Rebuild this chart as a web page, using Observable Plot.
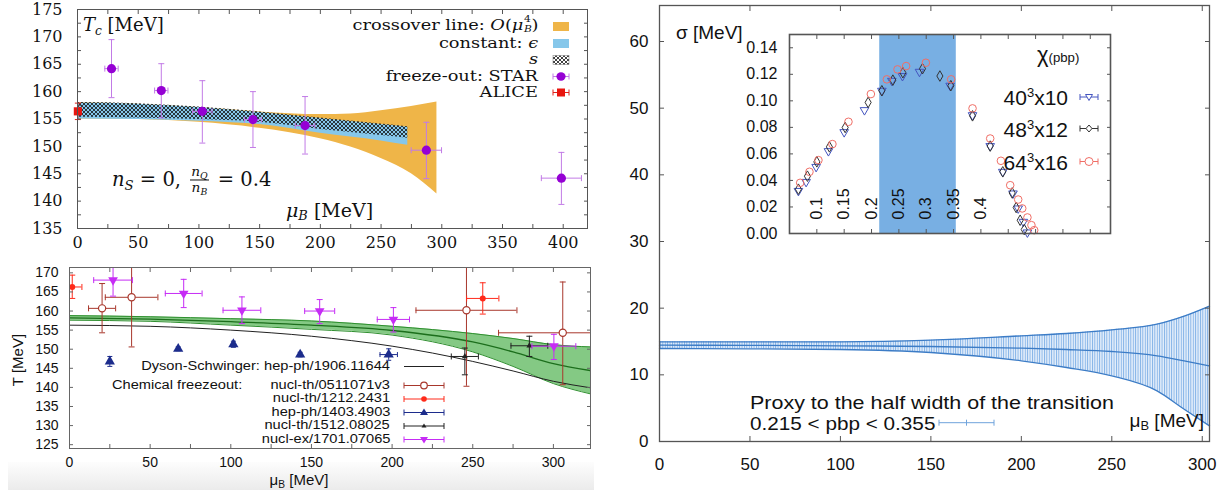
<!DOCTYPE html>
<html>
<head>
<meta charset="utf-8">
<script src="https://cdn.jsdelivr.net/npm/d3@7"></script>
<script src="https://cdn.jsdelivr.net/npm/@observablehq/plot@0.6"></script>
<style>
html,body{margin:0;padding:0;background:#fff;}
#root{position:relative;width:1229px;height:495px;overflow:hidden;background:#fff;}
#root > svg{position:absolute;}
.t{position:absolute;white-space:nowrap;line-height:1;color:#111;}
.serif{font-family:"DejaVu Serif","Liberation Serif",serif;}
.sans{font-family:"Liberation Sans",Arial,sans-serif;}
.t sub{font-size:0.68em;vertical-align:-0.3em;line-height:0;}
.t sup{font-size:0.62em;vertical-align:0.55em;line-height:0;}
.ss{position:relative;display:inline-block;width:0.75em;height:0;font-size:0.6em;}
.ss > span{position:absolute;left:0.05em;line-height:1;}
.ss > .a{top:-1.8em;}
.ss > .b{top:-0.55em;}
.frac{display:inline-block;vertical-align:-0.5em;text-align:center;font-size:0.7em;line-height:1.1;margin:0 3px;}
.frac > span{display:block;padding:0 1px;}
.frac .den{border-top:1px solid #111;}
.stripe{position:absolute;left:8px;top:462px;width:586px;height:28px;background:linear-gradient(#fdfdfd,#ebebeb);}
</style>
</head>
<body>
<svg width="0" height="0" style="position:absolute">
  <defs>
    <pattern id="hatch" patternUnits="userSpaceOnUse" width="4" height="4">
      <path d="M0,0 L4,4 M4,0 L0,4" stroke="#111" stroke-width="0.8"/>
    </pattern>
    <pattern id="vlines" patternUnits="userSpaceOnUse" width="2.4" height="10">
      <rect x="0" y="0" width="0.9" height="10" fill="#7fb0e6"/>
    </pattern>
  </defs>
</svg>
<div id="root"><div class="stripe"></div></div>
<script>
// ================= DATA =================
// --- Top-left: crossover line T_c(mu_B) ---
const tlXLabels = [0, 50, 100, 150, 200, 250, 300, 350, 400];
const tlYLabels = [135, 140, 145, 150, 155, 160, 165, 170, 175];
const tlOrangeMu = [0, 50, 100, 150, 200, 225, 250, 275, 296];
const tlOrangeLo = [155.0, 154.9, 154.4, 153.3, 151.4, 149.9, 147.8, 145.0, 141.3];
const tlOrangeHi = [158.0, 157.7, 157.1, 156.3, 155.8, 155.9, 156.5, 157.3, 158.1];
const tlBandMu = [0, 50, 100, 150, 200, 250, 272];
const tlEpsLo = [155.0, 154.9, 154.6, 154.0, 152.4, 151.0, 150.2];
const tlEpsHi = [157.9, 157.7, 157.1, 156.2, 155.1, 154.0, 153.5];
const tlSLo = [155.3, 155.2, 154.9, 154.4, 153.1, 152.0, 151.5];
const tlSHi = [158.0, 157.8, 157.2, 156.3, 155.2, 154.1, 153.6];
const starMu = [28, 69, 102.8, 144.5, 187.4, 287.3, 398.5];
const starT = [164.2, 160.2, 156.4, 154.9, 153.8, 149.3, 144.2];
const starTLo = [158.9, 155.2, 150.6, 149.8, 148.6, 144.1, 139.4];
const starTHi = [169.5, 165.1, 162.0, 160.0, 159.1, 154.4, 148.9];
const starMuErr = [5.5, 5.5, 8, 7, 8, 12.5, 16.5];
const aliceMu = [0.3];
const aliceT = [156.4];
const aliceTLo = [154.9];
const aliceTHi = [157.9];
const aliceMuErr = [1];

// --- Bottom-left: comparison with other results ---
const blXLabels = [0, 50, 100, 150, 200, 250, 300];
const blYLabels = [125, 130, 135, 140, 145, 150, 155, 160, 165, 170];
const greenMu = [0, 50, 100, 150, 200, 250, 275, 300, 323];
const greenHi = [158.8, 158.5, 158.0, 157.4, 156.0, 154.1, 152.8, 151.2, 150.6];
const greenMid = [158.2, 157.9, 157.2, 156.3, 154.9, 151.9, 149.3, 146.2, 144.4];
const greenLo = [157.6, 157.3, 156.3, 155.2, 153.7, 149.3, 145.5, 141.0, 138.3];
const dseMu = [0, 50, 100, 150, 200, 225, 250, 275, 300, 323];
const dseT = [156.3, 156.0, 155.0, 153.4, 150.8, 149.0, 146.8, 144.3, 141.6, 139.9];
const brownMu = [20.2, 38.5, 246.1, 305.8];
const brownT = [160.7, 163.6, 160.2, 154.3];
const brownTLo = [154.3, 150.6, 140.3, 140.7];
const brownTHi = [167.2, 176.0, 176.0, 167.6];
const brownMuErr = [8.4, 16.3, 31.3, 39.8];
const redMu = [1.7, 256.2];
const redT = [166.3, 163.3];
const redTLo = [163.3, 159.2];
const redTHi = [169.4, 167.4];
const redMuErr = [6, 10];
const navyMu = [25.0, 67.4, 101.6, 143.0, 197.9];
const navyT = [146.8, 150.1, 151.3, 148.6, 148.6];
const navyTLo = [145.5, 149.6, 150.5, 148.0, 147.1];
const navyTHi = [148.1, 150.6, 152.1, 149.2, 150.1];
const navyMuErr = [0, 0, 0, 0, 5.4];
const blackMu = [245.1, 285.1];
const blackT = [148.1, 150.9];
const blackTLo = [143.3, 148.1];
const blackTHi = [150.3, 153.4];
const blackMuErr = [8.4, 11.4];
const magMu = [27.0, 70.8, 106.9, 155.1, 200.8, 300.3];
const magT = [168.1, 164.6, 160.2, 160.0, 157.8, 150.8];
const magTLo = [163.9, 160.9, 156.7, 156.7, 154.5, 147.3];
const magTHi = [171.7, 168.3, 163.7, 163.0, 160.9, 153.9];
const magMuErr = [12, 11.4, 11.7, 9.3, 10, 13.6];

// --- Right: sigma(mu_B) ---
const rXLabels = [0, 50, 100, 150, 200, 250, 300];
const rYLabels = [0, 10, 20, 30, 40, 50, 60];
const sigMu = [0, 50, 100, 150, 200, 225, 250, 275, 290, 304];
const sigHi = [14.95, 14.95, 14.95, 15.2, 15.85, 16.2, 16.75, 17.6, 18.8, 20.3];
const sigMid = [14.45, 14.42, 14.35, 14.25, 14.0, 13.8, 13.5, 12.85, 12.1, 11.35];
const sigLo = [13.95, 13.9, 13.8, 13.35, 12.1, 11.1, 9.85, 7.6, 4.85, 2.35];

// --- Inset: chiral susceptibility vs pbp ---
const inXLabels = [0.1, 0.15, 0.2, 0.25, 0.3, 0.35, 0.4];
const inYLabels = [0, 0.02, 0.04, 0.06, 0.08, 0.10, 0.12, 0.14];
const inBand = [0.215, 0.355];
const l40x = [0.0663, 0.0804, 0.0987, 0.1212, 0.150, 0.1871, 0.2189, 0.2372, 0.2566, 0.2877, 0.3438, 0.3847, 0.417, 0.440, 0.4587, 0.4682, 0.4777, 0.485];
const l40y = [0.0321, 0.0389, 0.0502, 0.0621, 0.0764, 0.0930, 0.1076, 0.1151, 0.1187, 0.1219, 0.1114, 0.0892, 0.0659, 0.0465, 0.0302, 0.0189, 0.0088, 0.0008];
const l48x = [0.0663, 0.0828, 0.100, 0.123, 0.1518, 0.1938, 0.2189, 0.239, 0.2573, 0.2932, 0.325, 0.345, 0.3847, 0.417, 0.440, 0.4572, 0.4645, 0.4718, 0.4792];
const l48y = [0.0334, 0.0432, 0.054, 0.0653, 0.0799, 0.0988, 0.1076, 0.1156, 0.1212, 0.1242, 0.1187, 0.1114, 0.0887, 0.0659, 0.0465, 0.0306, 0.0196, 0.010, 0.003];
const l64x = [0.0695, 0.0865, 0.1029, 0.1285, 0.1578, 0.1988, 0.228, 0.2475, 0.2633, 0.2994, 0.3456, 0.3847, 0.417, 0.4366, 0.4536, 0.4682, 0.4756, 0.4851, 0.4924, 0.4975];
const l64y = [0.0382, 0.0465, 0.0553, 0.0674, 0.0842, 0.1051, 0.1162, 0.1237, 0.1262, 0.1287, 0.1162, 0.0943, 0.0716, 0.0548, 0.0364, 0.0256, 0.0189, 0.0121, 0.0063, 0.0025];

// ================= HELPERS =================
const root = document.getElementById("root");
const W = 1229;
const zip = (xs, f) => xs.map((x, i) => f(x, i));
const capH = {draw(c, s) { const r = Math.sqrt(s / Math.PI); c.moveTo(-r, 0); c.lineTo(r, 0); }};
const capV = {draw(c, s) { const r = Math.sqrt(s / Math.PI); c.moveTo(0, -r); c.lineTo(0, r); }};

function errMarks(data, {stroke, cap = 3, strokeWidth = 1, clip = false}) {
  const hx = data.filter(d => d.e > 0);
  const o = {stroke, strokeWidth, clip};
  return [
    Plot.ruleX(data, {x: "x", y1: "lo", y2: "hi", ...o}),
    Plot.ruleY(hx, {y: "y", x1: d => d.x - d.e, x2: d => d.x + d.e, ...o}),
    Plot.dot(data, {x: "x", y: "lo", symbol: capH, r: cap, fill: "none", ...o}),
    Plot.dot(data, {x: "x", y: "hi", symbol: capH, r: cap, fill: "none", ...o}),
    Plot.dot(hx, {x: d => d.x - d.e, y: "y", symbol: capV, r: cap, fill: "none", ...o}),
    Plot.dot(hx, {x: d => d.x + d.e, y: "y", symbol: capV, r: cap, fill: "none", ...o})
  ];
}
function frameTicks(xt, yt, size, stroke) {
  const f = () => "";
  return [
    Plot.axisX({anchor: "bottom", ticks: xt, tickSize: size, dy: -size, tickFormat: f, stroke, label: null}),
    Plot.axisX({anchor: "top", ticks: xt, tickSize: size, dy: size, tickFormat: f, stroke, label: null}),
    Plot.axisY({anchor: "left", ticks: yt, tickSize: size, dx: size, tickFormat: f, stroke, label: null}),
    Plot.axisY({anchor: "right", ticks: yt, tickSize: size, dx: -size, tickFormat: f, stroke, label: null})
  ];
}
function put(svg, left, top) {
  svg.style.position = "absolute"; svg.style.left = left + "px"; svg.style.top = top + "px";
  root.appendChild(svg);
}
function txt(html, x, y, {cls = "sans", size = 16, align = "left", color = "#111", rotate = 0, lh = 1, sx = 1} = {}) {
  const d = document.createElement("div");
  d.className = "t " + cls;
  d.innerHTML = html;
  d.style.fontSize = size + "px";
  d.style.lineHeight = lh;
  d.style.color = color;
  d.style.top = y + "px";
  if (align === "right") {
    d.style.right = (W - x) + "px"; d.style.transformOrigin = "right center";
    d.style.transform = `translateY(-50%) scaleX(${sx})`;
  } else if (align === "center") {
    d.style.left = x + "px"; d.style.transform = `translate(-50%,-50%) rotate(${rotate}deg)`;
  } else {
    d.style.left = x + "px"; d.style.transformOrigin = "left center";
    d.style.transform = `translateY(-50%) scaleX(${sx})`;
  }
  root.appendChild(d);
  return d;
}
const errRows = (xs, ys, lo, hi, e) => zip(xs, (x, i) => ({x, y: ys[i], lo: lo[i], hi: hi[i], e: e[i]}));

// ================= TOP-LEFT =================
{
  const orange = zip(tlOrangeMu, (m, i) => ({mu: m, lo: tlOrangeLo[i], hi: tlOrangeHi[i]}));
  const eps = zip(tlBandMu, (m, i) => ({mu: m, lo: tlEpsLo[i], hi: tlEpsHi[i]}));
  const ent = zip(tlBandMu, (m, i) => ({mu: m, lo: tlSLo[i], hi: tlSHi[i]}));
  const star = errRows(starMu, starT, starTLo, starTHi, starMuErr);
  const alice = errRows(aliceMu, aliceT, aliceTLo, aliceTHi, aliceMuErr);
  const p = Plot.plot({
    width: 600, height: 255, marginLeft: 77, marginRight: 13, marginTop: 9, marginBottom: 27,
    x: {domain: [0, 420], label: null}, y: {domain: [135, 175], label: null},
    style: {fontFamily: "'DejaVu Serif', serif", fontSize: "16px", color: "#111", background: "transparent", overflow: "visible"},
    marks: [
      Plot.areaY(orange, {x: "mu", y1: "lo", y2: "hi", fill: "#efb548", curve: "monotone-x"}),
      Plot.areaY(eps, {x: "mu", y1: "lo", y2: "hi", fill: "#86c7ea", curve: "monotone-x"}),
      Plot.areaY(ent, {x: "mu", y1: "lo", y2: "hi", fill: "url(#hatch)", curve: "monotone-x"}),
      ...errMarks(star, {stroke: "#c27be6", cap: 3}),
      Plot.dot(star, {x: "x", y: "y", r: 4.6, fill: "#9500d4"}),
      ...errMarks(alice, {stroke: "#e0201a", cap: 3}),
      Plot.dot(alice, {x: "x", y: "y", symbol: "square", r: 4.6, fill: "#e8150e"}),
      Plot.frame({stroke: "#555"}),
      Plot.axisX({anchor: "bottom", ticks: tlXLabels, tickSize: 0, tickPadding: 8, label: null}),
      Plot.axisY({anchor: "left", ticks: tlYLabels, tickSize: 0, tickPadding: 15, label: null}),
      ...frameTicks(d3.range(0, 421, 25), d3.range(135, 175.1, 2.5), 4, "#555")
    ]
  });
  put(p, 0, 0);
}

// ================= BOTTOM-LEFT =================
{
  const green = zip(greenMu, (m, i) => ({mu: m, lo: greenLo[i], mid: greenMid[i], hi: greenHi[i]}));
  const dse = zip(dseMu, (m, i) => ({mu: m, T: dseT[i]}));
  const brown = errRows(brownMu, brownT, brownTLo, brownTHi, brownMuErr);
  const red = errRows(redMu, redT, redTLo, redTHi, redMuErr);
  const navy = errRows(navyMu, navyT, navyTLo, navyTHi, navyMuErr);
  const blk = errRows(blackMu, blackT, blackTLo, blackTHi, blackMuErr);
  const mag = errRows(magMu, magT, magTLo, magTHi, magMuErr);
  const c = {clip: true};
  const p = Plot.plot({
    width: 600, height: 240, marginLeft: 69, marginRight: 10, marginTop: 12, marginBottom: 47,
    x: {domain: [0, 323], label: null}, y: {domain: [124, 171.4], label: null},
    style: {fontFamily: "'Liberation Sans', Arial, sans-serif", fontSize: "14px", color: "#111", background: "transparent", overflow: "visible"},
    marks: [
      Plot.areaY(green, {x: "mu", y1: "lo", y2: "hi", fill: "#6fbf6f", fillOpacity: 0.85, curve: "monotone-x", ...c}),
      Plot.line(green, {x: "mu", y: "hi", stroke: "#2f8f2f", strokeWidth: 1, curve: "monotone-x", ...c}),
      Plot.line(green, {x: "mu", y: "lo", stroke: "#2f8f2f", strokeWidth: 1, curve: "monotone-x", ...c}),
      Plot.line(green, {x: "mu", y: "mid", stroke: "#1c6e1c", strokeWidth: 1.3, curve: "monotone-x", ...c}),
      Plot.line(dse, {x: "mu", y: "T", stroke: "#222", strokeWidth: 1, curve: "monotone-x", ...c}),
      ...errMarks(brown, {stroke: "#a8372c", cap: 3, clip: true}),
      Plot.dot(brown, {x: "x", y: "y", r: 3.6, stroke: "#a8372c", fill: "white", strokeWidth: 1.2, ...c}),
      ...errMarks(red, {stroke: "#ff2a1a", cap: 3, clip: true}),
      Plot.dot(red, {x: "x", y: "y", r: 3, fill: "#ff2a1a", ...c}),
      ...errMarks(navy, {stroke: "#1c2c8c", cap: 2.5, clip: true}),
      Plot.dot(navy, {x: "x", y: "y", r: 3.8, symbol: "triangle", fill: "#1c2c8c", ...c}),
      ...errMarks(blk, {stroke: "#222", cap: 3, clip: true}),
      Plot.dot(blk, {x: "x", y: "y", r: 2.2, symbol: "triangle", fill: "#222", ...c}),
      ...errMarks(mag, {stroke: "#c62cf5", cap: 3, clip: true}),
      Plot.dot(mag, {x: "x", y: "y", r: 3.6, symbol: "triangle", rotate: 180, fill: "#c62cf5", ...c}),
      Plot.frame({stroke: "#666"}),
      Plot.axisX({anchor: "bottom", ticks: blXLabels, tickSize: 0, tickPadding: 9, label: null}),
      Plot.axisY({anchor: "left", ticks: blYLabels, tickSize: 0, tickPadding: 11, label: null}),
      ...frameTicks(d3.range(0, 323, 25), blYLabels, 4, "#666")
    ]
  });
  put(p, 0, 255);
}

// ================= RIGHT =================
{
  const sig = zip(sigMu, (m, i) => ({mu: m, lo: sigLo[i], mid: sigMid[i], hi: sigHi[i]}));
  const cv = "monotone-x";
  const p = Plot.plot({
    width: 629, height: 495, marginLeft: 59, marginRight: 20, marginTop: 5, marginBottom: 54,
    x: {domain: [0, 304], label: null}, y: {domain: [0, 65.4], label: null},
    style: {fontFamily: "'Liberation Sans', Arial, sans-serif", fontSize: "17px", color: "#111", background: "transparent", overflow: "visible"},
    marks: [
      Plot.areaY(sig, {x: "mu", y1: "lo", y2: "hi", fill: "#e4eefa", curve: cv}),
      Plot.areaY(sig, {x: "mu", y1: "lo", y2: "hi", fill: "url(#vlines)", curve: cv}),
      Plot.line(sig, {x: "mu", y: "hi", stroke: "#3c7cc6", strokeWidth: 1.3, curve: cv}),
      Plot.line(sig, {x: "mu", y: "lo", stroke: "#3c7cc6", strokeWidth: 1.3, curve: cv}),
      Plot.line(sig, {x: "mu", y: "mid", stroke: "#3c7cc6", strokeWidth: 1.3, curve: cv}),
      Plot.frame({stroke: "#555", strokeWidth: 1.3}),
      Plot.axisX({anchor: "bottom", ticks: rXLabels, tickSize: 0, tickPadding: 16, label: null}),
      Plot.axisY({anchor: "left", ticks: rYLabels, tickSize: 0, tickPadding: 11, label: null}),
      ...frameTicks(rXLabels, rYLabels, 5, "#555")
    ]
  });
  put(p, 600, 0);
}

// ================= INSET =================
{
  const s40 = zip(l40x, (x, i) => ({x, y: l40y[i]}));
  const s48 = zip(l48x, (x, i) => ({x, y: l48y[i]}));
  const s64 = zip(l64x, (x, i) => ({x, y: l64y[i]}));
  const p = Plot.plot({
    width: 400, height: 230, marginLeft: 69, marginRight: 10, marginTop: 14, marginBottom: 17,
    x: {domain: [0.05, 0.637], label: null}, y: {domain: [0, 0.150], label: null},
    style: {fontFamily: "'Liberation Sans', Arial, sans-serif", fontSize: "16px", color: "#111", background: "transparent", overflow: "visible"},
    marks: [
      Plot.frame({fill: "white", stroke: "none"}),
      Plot.rectX([inBand], {x1: d => d[0], x2: d => d[1], y1: 0, y2: 0.150, fill: "#78afe3"}),
      Plot.dot(s40, {x: "x", y: "y", symbol: "triangle", rotate: 180, r: 3.2, stroke: "#4455c0", fill: "none", strokeWidth: 1}),
      Plot.dot(s48, {x: "x", y: "y", symbol: "diamond", r: 3.2, stroke: "#333", fill: "none", strokeWidth: 1}),
      Plot.dot(s64, {x: "x", y: "y", symbol: "circle", r: 3.8, stroke: "#f06e66", fill: "none", strokeWidth: 1}),
      Plot.text(inXLabels, {x: d => d, y: 0, text: d => String(d), rotate: -90, textAnchor: "start", dy: -14, fontSize: 16}),
      Plot.frame({stroke: "#555", strokeWidth: 1.6}),
      Plot.axisY({anchor: "left", ticks: inYLabels, tickSize: 0, tickPadding: 12, tickFormat: d3.format(".2f"), label: null}),
      ...frameTicks(d3.range(0.05, 0.62, 0.05), inYLabels, 4, "#555")
    ]
  });
  put(p, 720, 20);
}

// ================= TEXT & LEGENDS =================
const S = {cls: "serif", size: 14, align: "right", lh: 0.85, sx: 1.27};
txt('<i>T</i><sub><i>c</i></sub> [MeV]', 83, 25, {cls: "serif", size: 18});
txt('crossover line: <i>O</i>(<i>μ</i><span class="ss"><span class="a">4</span><span class="b"><i>B</i></span></span>)', 538, 26, S);
txt('constant: <i>ϵ</i>', 538, 43.5, S);
txt('<i>s</i>', 538, 60, S);
txt('freeze-out: STAR', 538, 76.5, S);
txt('ALICE', 538, 93, S);
txt('<i>n</i><sub><i>S</i></sub> = 0, <span class="frac"><span><i>n</i><sub><i>Q</i></sub></span><span class="den"><i>n</i><sub><i>B</i></sub></span></span> = 0.4', 112, 180, {cls: "serif", size: 19.5});
txt('<i>μ</i><sub><i>B</i></sub> [MeV]', 286, 210, {cls: "serif", size: 19});

const L = {cls: "sans", size: 12, align: "right", lh: 0.8, sx: 1.22};
txt('Dyson-Schwinger: hep-ph/1906.11644', 390, 366.5, L);
txt('Chemical freezeout:', 112, 385.5, {cls: "sans", size: 12, lh: 0.8, sx: 1.22});
txt('nucl-th/0511071v3', 390, 385.5, L);
txt('nucl-th/1212.2431', 390, 399, L);
txt('hep-ph/1403.4903', 390, 412.5, L);
txt('nucl-th/1512.08025', 390, 426, L);
txt('nucl-ex/1701.07065', 390, 439.5, L);
txt('μ<sub>B</sub> [MeV]', 299, 479, {cls: "sans", size: 15, align: "center"});
txt('T [MeV]', 17, 360, {cls: "sans", size: 15, align: "center", rotate: -90});

txt('σ [MeV]', 676, 32, {cls: "sans", size: 19});
txt('Proxy to the half width of the transition', 750, 401.5, {cls: "sans", size: 19, sx: 1.13});
txt('0.215 &lt; pbp &lt; 0.355', 750, 423, {cls: "sans", size: 19, sx: 1.09});
txt('μ<sub>B</sub> [MeV]', 1204, 420, {cls: "sans", size: 19, align: "right"});

txt('χ<span style="font-size:0.6em">(pbp)</span>', 1037, 55, {cls: "sans", size: 22});
txt('40<sup>3</sup>x10', 1068, 97, {cls: "sans", size: 21, align: "right"});
txt('48<sup>3</sup>x12', 1068, 128.5, {cls: "sans", size: 21, align: "right"});
txt('64<sup>3</sup>x16', 1068, 161.5, {cls: "sans", size: 21, align: "right"});

// legend sample glyphs (pixel space overlay)
const ns = "http://www.w3.org/2000/svg";
const ov = document.createElementNS(ns, "svg");
ov.setAttribute("width", 1229); ov.setAttribute("height", 495);
ov.style.left = "0px"; ov.style.top = "0px";
function hbar(x1, x2, y, col, cap = 3, mid = false) {
  return `<path d="M${x1},${y}H${x2}M${x1},${y - cap}V${y + cap}M${x2},${y - cap}V${y + cap}` + (mid ? `M${(x1 + x2) / 2},${y - cap}V${y + cap}` : "") + `" stroke="${col}" stroke-width="1" fill="none"/>`;
}
let g = "";
g += `<rect x="553" y="22" width="16" height="9" fill="#efb548"/>`;
g += `<rect x="553" y="39" width="16" height="9" fill="#86c7ea"/>`;
g += `<rect x="553" y="55.5" width="16" height="9" fill="url(#hatch)" stroke="#777" stroke-width="0.5"/>`;
g += hbar(553, 569, 76.5, "#c27be6") + `<ellipse cx="561" cy="76.5" rx="4.6" ry="4.2" fill="#9500d4"/>`;
g += hbar(553, 569, 92.5, "#e0201a") + `<rect x="557" y="88.5" width="8" height="8" fill="#e8150e"/>`;
const lx1 = 404, lx2 = 444, lm = 424;
g += `<path d="M${lx1},366.5H${lx2}" stroke="#222"/>`;
g += hbar(lx1, lx2, 385.5, "#a8372c") + `<circle cx="${lm}" cy="385.5" r="3.3" fill="white" stroke="#a8372c" stroke-width="1.2"/>`;
g += hbar(lx1, lx2, 399, "#ff2a1a") + `<circle cx="${lm}" cy="399" r="2.8" fill="#ff2a1a"/>`;
g += hbar(lx1, lx2, 412.5, "#1c2c8c") + `<path d="M${lm},408.5L${lm + 4},415H${lm - 4}Z" fill="#1c2c8c"/>`;
g += hbar(lx1, lx2, 426, "#222") + `<path d="M${lm},423.5L${lm + 2.5},427.5H${lm - 2.5}Z" fill="#222"/>`;
g += hbar(lx1, lx2, 439.5, "#c62cf5") + `<path d="M${lm},443.5L${lm + 4},437H${lm - 4}Z" fill="#c62cf5"/>`;
g += hbar(939, 994, 422.7, "#6fa3dc", 3, true);
g += hbar(1080, 1098, 97, "#4455c0") + `<path d="M1089,100.5L1092.5,94.5H1085.5Z" fill="white" stroke="#4455c0"/>`;
g += hbar(1080, 1098, 128.5, "#333") + `<path d="M1089,125L1092,128.5L1089,132L1086,128.5Z" fill="white" stroke="#333"/>`;
g += hbar(1080, 1098, 161.5, "#f06e66") + `<circle cx="1089" cy="161.5" r="4" fill="white" stroke="#f06e66"/>`;
ov.innerHTML = g;
root.appendChild(ov);
</script>
</body>
</html>
